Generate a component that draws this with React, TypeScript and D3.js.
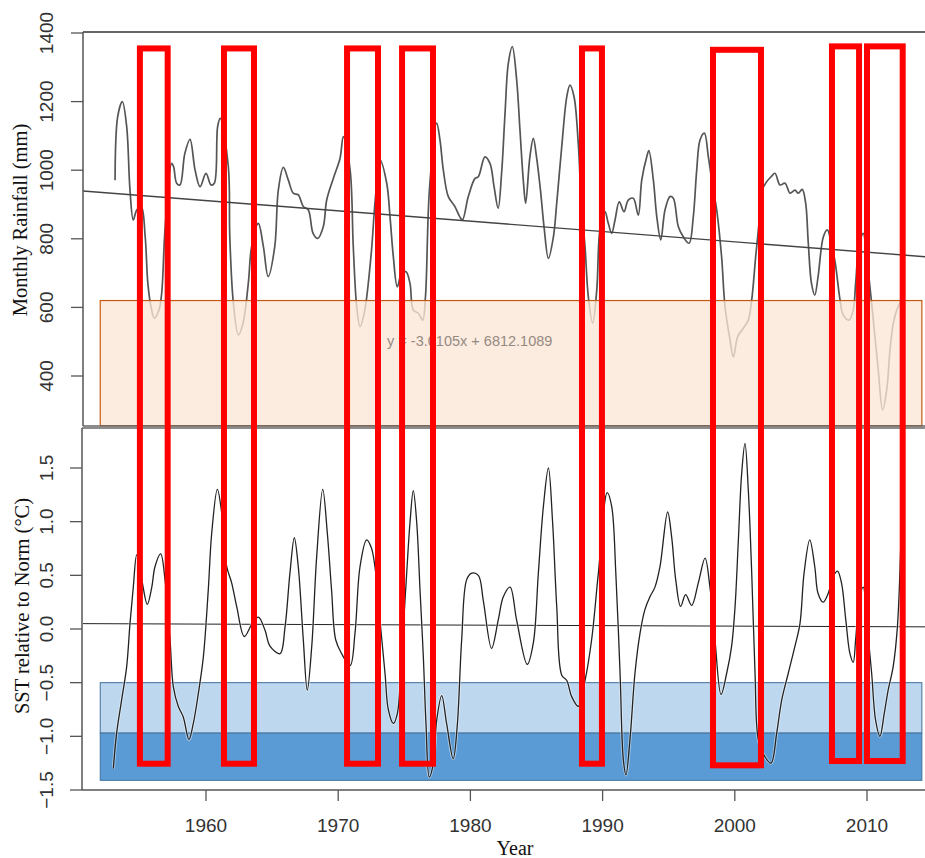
import * as d3 from "d3";

// rainfall (mm), smoothed monthly series
const rainYears = [
  1953.12, 1953.32, 1953.67, 1954.0, 1954.25, 1954.5, 1954.76, 1955.1, 1955.4, 1955.6, 1955.84, 1956.09, 1956.44, 1956.65, 1956.9, 1957.4, 1957.55, 1957.78, 1958.03, 1958.4, 1958.79, 1959.17, 1959.55, 1960.0, 1960.38, 1960.63, 1960.88, 1961.08, 1961.69, 1961.8, 1962.07, 1962.45, 1962.8, 1963.2, 1963.45, 1963.96, 1964.34, 1964.7, 1965.2, 1965.47, 1965.85, 1966.23, 1966.6, 1966.98, 1967.36, 1967.74, 1968.1, 1968.45, 1968.87, 1969.13, 1969.63, 1970.14, 1970.39, 1970.9, 1971.14, 1971.4, 1971.65, 1972.0, 1972.5, 1972.8, 1973.16, 1973.67, 1973.92, 1974.17, 1974.47, 1974.8, 1975.13, 1975.43, 1975.68, 1976.06, 1976.39, 1976.6, 1976.9, 1977.45, 1977.7, 1977.95, 1978.33, 1978.83, 1979.2, 1979.4, 1979.84, 1980.35, 1980.6, 1981.1, 1981.48, 1981.79, 1982.1, 1982.36, 1982.62, 1982.87, 1983.17, 1983.5, 1983.75, 1984.0, 1984.18, 1984.5, 1984.76, 1985.0, 1985.3, 1985.57, 1985.9, 1986.28, 1986.53, 1986.91, 1987.29, 1987.53, 1987.84, 1988.16, 1988.4, 1988.67, 1988.92, 1989.25, 1989.56, 1989.8, 1990.18, 1990.43, 1990.69, 1990.94, 1991.26, 1991.62, 1991.94, 1992.32, 1992.7, 1992.96, 1993.34, 1993.5, 1993.84, 1994.1, 1994.4, 1994.72, 1995.1, 1995.35, 1995.73, 1996.1, 1996.54, 1996.86, 1997.12, 1997.37, 1997.7, 1998.0, 1998.3, 1998.63, 1999.0, 1999.26, 1999.64, 1999.89, 2000.22, 2000.64, 2001.02, 2001.28, 2001.58, 2001.83, 2002.08, 2002.4, 2002.75, 2003.04, 2003.42, 2003.8, 2004.18, 2004.55, 2004.8, 2005.1, 2005.36, 2005.56, 2005.8, 2006.05, 2006.3, 2006.7, 2007.0, 2007.3, 2007.6, 2007.96, 2008.2, 2008.64, 2008.96, 2009.14, 2009.4, 2009.72, 2009.97, 2010.35, 2010.6, 2010.85, 2011.18, 2011.49, 2011.74, 2011.99, 2012.25, 2012.62,
];
const rainValues = [
  971, 1156, 1200, 1127, 942, 855, 884, 894, 806, 671, 602, 569, 592, 642, 826, 1020, 1010, 962, 957, 1049, 1090, 1001, 952, 991, 957, 962, 1127, 1151, 1010, 806, 613, 520, 554, 670, 777, 845, 777, 690, 777, 942, 1008, 971, 933, 928, 894, 884, 816, 801, 835, 913, 976, 1035, 1098, 1001, 777, 602, 544, 590, 758, 913, 1030, 962, 864, 748, 660, 700, 704, 670, 592, 583, 563, 631, 942, 1137, 1088, 1001, 923, 894, 864, 855, 923, 976, 981, 1039, 1020, 952, 889, 991, 1166, 1312, 1360, 1263, 1117, 971, 904, 1039, 1093, 1039, 942, 835, 743, 806, 904, 1069, 1214, 1248, 1214, 1078, 900, 777, 631, 554, 651, 826, 879, 845, 816, 855, 908, 879, 913, 918, 869, 971, 1039, 1057, 971, 864, 797, 884, 923, 918, 835, 806, 787, 864, 1001, 1088, 1108, 1039, 960, 884, 748, 602, 505, 456, 515, 539, 563, 622, 748, 845, 942, 966, 981, 991, 957, 962, 933, 942, 933, 944, 904, 787, 670, 636, 690, 806, 826, 787, 729, 622, 578, 563, 592, 670, 780, 816, 748, 612, 515, 418, 301, 359, 476, 554, 592, 622,
];

// SST anomaly (°C)
const sstYears = [
  1952.99, 1953.24, 1953.62, 1954.0, 1954.25, 1954.5, 1954.76, 1955.14, 1955.56, 1955.9, 1956.14, 1956.57, 1956.9, 1957.28, 1957.53, 1957.9, 1958.28, 1958.71, 1959.04, 1959.42, 1959.8, 1960.17, 1960.43, 1960.86, 1961.19, 1961.57, 1961.94, 1962.32, 1962.9, 1963.45, 1963.96, 1964.46, 1964.84, 1965.6, 1965.98, 1966.35, 1966.68, 1966.98, 1967.36, 1967.66, 1968.0, 1968.37, 1968.83, 1969.18, 1969.5, 1969.81, 1970.26, 1970.9, 1971.27, 1971.65, 1972.15, 1972.5, 1972.78, 1973.16, 1973.54, 1973.79, 1974.17, 1974.47, 1974.8, 1975.18, 1975.43, 1975.68, 1975.94, 1976.19, 1976.44, 1976.64, 1976.89, 1977.2, 1977.45, 1977.83, 1978.2, 1978.7, 1979.0, 1979.34, 1979.72, 1980.1, 1980.6, 1980.97, 1981.6, 1982.1, 1982.49, 1983.0, 1983.5, 1984.3, 1984.76, 1985.14, 1985.52, 1985.9, 1986.22, 1986.53, 1986.91, 1987.29, 1987.66, 1988.16, 1988.67, 1989.17, 1989.68, 1990.35, 1990.69, 1991.0, 1991.32, 1991.57, 1991.77, 1992.07, 1992.45, 1992.83, 1993.2, 1993.58, 1993.96, 1994.34, 1994.92, 1995.22, 1995.53, 1995.9, 1996.28, 1996.74, 1997.24, 1997.75, 1998.12, 1998.5, 1998.96, 1999.39, 1999.76, 2000.02, 2000.27, 2000.52, 2000.77, 2001.02, 2001.28, 2001.53, 2001.78, 2002.28, 2002.74, 2003.17, 2003.55, 2004.05, 2004.55, 2004.93, 2005.24, 2005.67, 2006.05, 2006.3, 2006.68, 2007.06, 2007.44, 2007.77, 2008.07, 2008.4, 2008.71, 2008.96, 2009.14, 2009.45, 2009.72, 2009.97, 2010.35, 2010.65, 2010.98, 2011.3, 2011.6, 2011.98, 2012.3, 2012.55,
];
const sstValues = [
  -1.3, -0.97, -0.66, -0.35, 0.05, 0.39, 0.69, 0.46, 0.23, 0.39, 0.58, 0.7, 0.46, -0.1, -0.54, -0.72, -0.82, -1.03, -0.88, -0.6, -0.26, 0.36, 0.89, 1.3, 1.08, 0.58, 0.43, 0.21, -0.07, 0.04, 0.11, -0.01, -0.16, -0.23, 0.02, 0.52, 0.85, 0.58, -0.1, -0.57, -0.16, 0.67, 1.3, 0.89, 0.36, -0.1, -0.23, -0.34, -0.04, 0.58, 0.83, 0.76, 0.58, 0.08, -0.41, -0.75, -0.88, -0.79, -0.23, 0.52, 0.99, 1.29, 0.99, 0.36, -0.26, -0.88, -1.38, -1.25, -0.85, -0.62, -0.88, -1.21, -0.91, -0.1, 0.46, 0.52, 0.5, 0.27, -0.18, 0.08, 0.3, 0.39, 0.08, -0.33, -0.13, 0.52, 1.14, 1.5, 0.99, 0.21, -0.43, -0.48, -0.63, -0.72, -0.48, -0.1, 0.52, 1.27, 1.14, 0.52, -0.41, -1.22, -1.36, -1.03, -0.41, -0.04, 0.18, 0.3, 0.39, 0.58, 1.09, 0.86, 0.46, 0.21, 0.32, 0.22, 0.43, 0.66, 0.39, -0.1, -0.61, -0.41, -0.16, 0.21, 0.83, 1.45, 1.73, 1.3, 0.52, -0.41, -1.03, -1.19, -1.25, -0.97, -0.66, -0.41, -0.16, 0.05, 0.52, 0.83, 0.58, 0.33, 0.25, 0.33, 0.49, 0.54, 0.43, 0.08, -0.23, -0.31, -0.1, 0.3, 0.39, 0.08, -0.41, -0.85, -1.0, -0.79, -0.57, -0.35, 0.02, 0.77,
];

const rainTicks = [400, 600, 800, 1000, 1200, 1400];
const sstTicks = [-1.5, -1.0, -0.5, 0.0, 0.5, 1.0, 1.5];
const yearTicks = [1960, 1970, 1980, 1990, 2000, 2010];

// trend fitted to rainfall
const trendSlope = -3.0105;
const trendIntercept = 6812.1089;
const trendLabel = "y = -3.0105x + 6812.1089";

// threshold bands
const rainBand = { from: 1952, to: 2014.15, lo: 255, hi: 620 };
const sstBands = [
  { lo: -0.97, hi: -0.5, fill: "#bdd7ee" },
  { lo: -1.41, hi: -0.97, fill: "#5b9bd5" },
];

// highlighted drought periods (top in mm, bottom in °C)
const periods = [
  { start: 1955.0, end: 1957.1, top: 1355, bottom: -1.255 },
  { start: 1961.36, end: 1963.63, top: 1355, bottom: -1.255 },
  { start: 1970.67, end: 1973.01, top: 1355, bottom: -1.255 },
  { start: 1974.83, end: 1977.17, top: 1355, bottom: -1.255 },
  { start: 1988.44, end: 1989.95, top: 1355, bottom: -1.255 },
  { start: 1998.35, end: 2001.98, top: 1351, bottom: -1.27 },
  { start: 2007.35, end: 2009.4, top: 1361, bottom: -1.23 },
  { start: 2010.0, end: 2012.7, top: 1361, bottom: -1.23 },
];

const W = 925;
const H = 858;
const left = 83;
const topPanel = [32, 426];
const botPanel = [428, 790];

export default function App() {
  const x = d3.scaleLinear([1960, 2010], [206, 867]);
  const yR = d3.scaleLinear([400, 1400], [376, 33]);
  const yS = d3.scaleLinear([-1.5, 1.5], [790, 468]);
  const xMin = x.invert(left);
  const xMax = x.invert(W);

  const rainLine = d3
    .line<number>()
    .x((d, i) => x(rainYears[i]))
    .y((d) => yR(d))
    .curve(d3.curveCatmullRom.alpha(0.5));
  const sstLine = d3
    .line<number>()
    .x((d, i) => x(sstYears[i]))
    .y((d) => yS(d))
    .curve(d3.curveCatmullRom.alpha(0.5));

  const tickFont = "'Liberation Sans', Arial, sans-serif";
  const titleFont = "'Liberation Serif', 'Times New Roman', serif";

  return (
    <svg width={W} height={H} style={{ position: "absolute", left: 0, top: 0, background: "#fff" }}>
      {/* top panel */}
      <path d={rainLine(rainValues) ?? ""} fill="none" stroke="#555" strokeWidth={1.7} />
      <line
        x1={left}
        x2={W}
        y1={yR(trendSlope * xMin + trendIntercept)}
        y2={yR(trendSlope * xMax + trendIntercept)}
        stroke="#444"
        strokeWidth={1.4}
      />
      <rect
        x={x(rainBand.from)}
        y={yR(rainBand.hi)}
        width={x(rainBand.to) - x(rainBand.from)}
        height={yR(rainBand.lo) - yR(rainBand.hi)}
        fill="#fbe5d6"
        fillOpacity={0.78}
        stroke="#c55a11"
        strokeWidth={1.2}
      />
      <text x={x(1979.95)} y={346} textAnchor="middle" fontFamily={tickFont} fontSize={14.5} fill="#958a82">
        {trendLabel}
      </text>
      <line x1={left} x2={W} y1={topPanel[0]} y2={topPanel[0]} stroke="#666" strokeWidth={2} />
      <line x1={left} x2={W} y1={topPanel[1]} y2={topPanel[1]} stroke="#666" strokeWidth={1.5} />
      <line x1={left} x2={left} y1={topPanel[0]} y2={topPanel[1]} stroke="#555" strokeWidth={1.5} />
      {rainTicks.map((t) => (
        <g key={t}>
          <line x1={left - 12} x2={left} y1={yR(t)} y2={yR(t)} stroke="#555" strokeWidth={1.3} />
          <text
            transform={`translate(53,${yR(t)}) rotate(-90)`}
            textAnchor="middle"
            fontFamily={tickFont}
            fontSize={19}
            fill="#333"
          >
            {t}
          </text>
        </g>
      ))}
      <text
        transform="translate(27,220) rotate(-90)"
        textAnchor="middle"
        fontFamily={titleFont}
        fontSize={20.5}
        fill="#111"
      >
        Monthly Rainfall (mm)
      </text>

      {/* bottom panel */}
      {sstBands.map((b, i) => (
        <rect
          key={i}
          x={x(rainBand.from)}
          y={yS(b.hi)}
          width={x(rainBand.to) - x(rainBand.from)}
          height={yS(b.lo) - yS(b.hi)}
          fill={b.fill}
          stroke="#41719c"
          strokeWidth={1}
        />
      ))}
      <line x1={left} x2={W} y1={yS(0.05)} y2={yS(0.02)} stroke="#222" strokeWidth={1} />
      <path d={sstLine(sstValues) ?? ""} fill="none" stroke="#fff" strokeWidth={3} strokeOpacity={0.5} />
      <path d={sstLine(sstValues) ?? ""} fill="none" stroke="#222" strokeWidth={1.3} />
      <line x1={left - 1} x2={W} y1={botPanel[0]} y2={botPanel[0]} stroke="#666" strokeWidth={1.5} />
      <line x1={left - 1} x2={W} y1={botPanel[1]} y2={botPanel[1]} stroke="#555" strokeWidth={1.5} />
      <line x1={left - 1} x2={left - 1} y1={botPanel[0]} y2={botPanel[1]} stroke="#555" strokeWidth={1.5} />
      {sstTicks.map((t) => (
        <g key={t}>
          <line x1={left - 13} x2={left - 1} y1={yS(t)} y2={yS(t)} stroke="#555" strokeWidth={1.3} />
          <text
            transform={`translate(53,${yS(t)}) rotate(-90)`}
            textAnchor="middle"
            fontFamily={tickFont}
            fontSize={19}
            fill="#333"
          >
            {d3.format(".1f")(t)}
          </text>
        </g>
      ))}
      {yearTicks.map((t) => (
        <g key={t}>
          <line x1={x(t)} x2={x(t)} y1={botPanel[1]} y2={botPanel[1] + 11} stroke="#555" strokeWidth={1.3} />
          <text x={x(t)} y={832} textAnchor="middle" fontFamily={tickFont} fontSize={19} fill="#333">
            {t}
          </text>
        </g>
      ))}
      <text
        transform="translate(29,606) rotate(-90)"
        textAnchor="middle"
        fontFamily={titleFont}
        fontSize={20.5}
        fill="#111"
      >
        SST relative to Norm (°C)
      </text>
      <text x={515} y={855} textAnchor="middle" fontFamily={titleFont} fontSize={20} fill="#111">
        Year
      </text>

      {/* highlighted periods */}
      {periods.map((p, i) => (
        <rect
          key={i}
          x={x(p.start)}
          y={yR(p.top)}
          width={x(p.end) - x(p.start)}
          height={yS(p.bottom) - yR(p.top)}
          fill="none"
          stroke="#ff0000"
          strokeWidth={6}
        />
      ))}
    </svg>
  );
}
